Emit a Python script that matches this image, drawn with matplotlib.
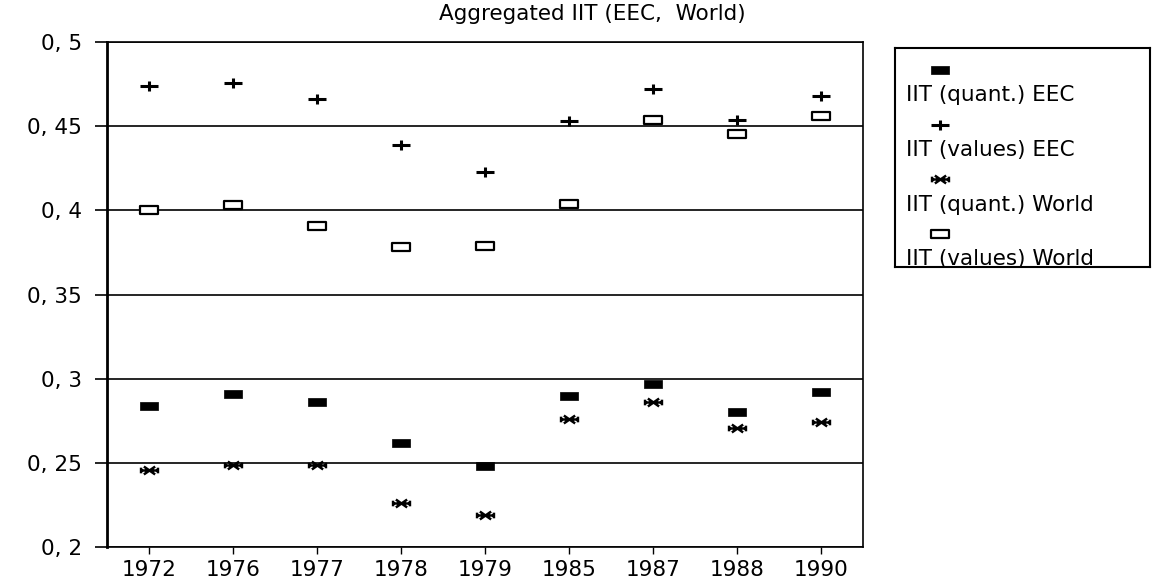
import matplotlib
matplotlib.use('Agg')
import matplotlib.pyplot as plt
from matplotlib.path import Path

years = ['1972', '1976', '1977', '1978', '1979', '1985', '1987', '1988', '1990']
iit_quant_eec = [0.284, 0.291, 0.286, 0.262, 0.248, 0.290, 0.297, 0.280, 0.292]
iit_values_eec = [0.474, 0.476, 0.466, 0.439, 0.423, 0.453, 0.472, 0.454, 0.468]
iit_quant_world = [0.246, 0.249, 0.249, 0.226, 0.219, 0.276, 0.286, 0.271, 0.274]
iit_values_world = [0.400, 0.403, 0.391, 0.378, 0.379, 0.404, 0.454, 0.4455, 0.456]

y_ticks = [0.2, 0.25, 0.3, 0.35, 0.4, 0.45, 0.5]
y_ticklabels = ['0, 2', '0, 25', '0, 3', '0, 35', '0, 4', '0, 45', '0, 5']
labels = ['IIT (quant.) EEC', 'IIT (values) EEC', 'IIT (quant.) World', 'IIT (values) World']

# flat marker shapes, wider than tall
rect = Path([(-1, -0.47), (1, -0.47), (1, 0.47), (-1, 0.47), (-1, -0.47)],
            [Path.MOVETO, Path.LINETO, Path.LINETO, Path.LINETO, Path.CLOSEPOLY])
plus = Path([(-1, 0), (1, 0), (0, -0.5), (0, 0.5)],
            [Path.MOVETO, Path.LINETO, Path.MOVETO, Path.LINETO])
star = Path([(-1, 0), (1, 0), (-0.6, -0.42), (0.6, 0.42), (-0.6, 0.42), (0.6, -0.42),
             (-0.9, -0.3), (-0.9, 0.3), (0.9, -0.3), (0.9, 0.3)],
            [Path.MOVETO, Path.LINETO] * 5)

styles = [
    dict(marker=rect, markersize=13.5, markerfacecolor='black', markeredgecolor='black', markeredgewidth=0.5),
    dict(marker=plus, markersize=13.5, markeredgecolor='black', markeredgewidth=2.2),
    dict(marker=star, markersize=13.5, markeredgecolor='black', markeredgewidth=1.8),
    dict(marker=rect, markersize=13.0, markerfacecolor='white', markeredgecolor='black', markeredgewidth=1.6),
]
series = [iit_quant_eec, iit_values_eec, iit_quant_world, iit_values_world]

plt.rcParams['font.family'] = 'DejaVu Sans'
fig = plt.figure(figsize=(11.52, 5.81), dpi=100)
ax = fig.add_axes([0.0926, 0.0585, 0.6565, 0.869])

x = list(range(len(years)))
for vals, st in zip(series, styles):
    ax.plot(x, vals, linestyle='none', zorder=3, **st)

ax.set_xlim(-0.5, len(years) - 0.5)
ax.set_ylim(0.2, 0.5)
ax.set_xticks(x)
ax.set_xticklabels(years, fontsize=15.5)
ax.set_yticks(y_ticks)
ax.set_yticklabels(y_ticklabels, fontsize=15.5)
ax.tick_params(axis='y', direction='out', length=9, width=1.2, pad=9)
ax.tick_params(axis='x', direction='out', length=5, width=1.0, pad=4)
ax.yaxis.grid(True, color='black', linewidth=1.2)
ax.set_axisbelow(True)
for side in ['top', 'right', 'bottom']:
    ax.spines[side].set_linewidth(1.2)
ax.spines['left'].set_linewidth(2.0)

fig.text(592 / 1152, 1 - 14 / 581, 'Aggregated IIT (EEC,  World)', ha='center', va='center', fontsize=15.5)

# legend: marker above each label
lax = fig.add_axes([895 / 1152, 1 - 267 / 581, 255 / 1152, 219 / 581])
lax.set_xlim(0, 1)
lax.set_ylim(0, 1)
lax.set_xticks([])
lax.set_yticks([])
for s in lax.spines.values():
    s.set_linewidth(1.5)
for i, (lab, st) in enumerate(zip(labels, styles)):
    top = 1 - i * 0.25
    lax.plot([0.176], [top - 0.10], linestyle='none', transform=lax.transAxes, clip_on=False, **st)
    lax.text(0.045, top - 0.215, lab, fontsize=15.5, ha='left', va='center', transform=lax.transAxes)

fig.savefig('out.png', dpi=100)
